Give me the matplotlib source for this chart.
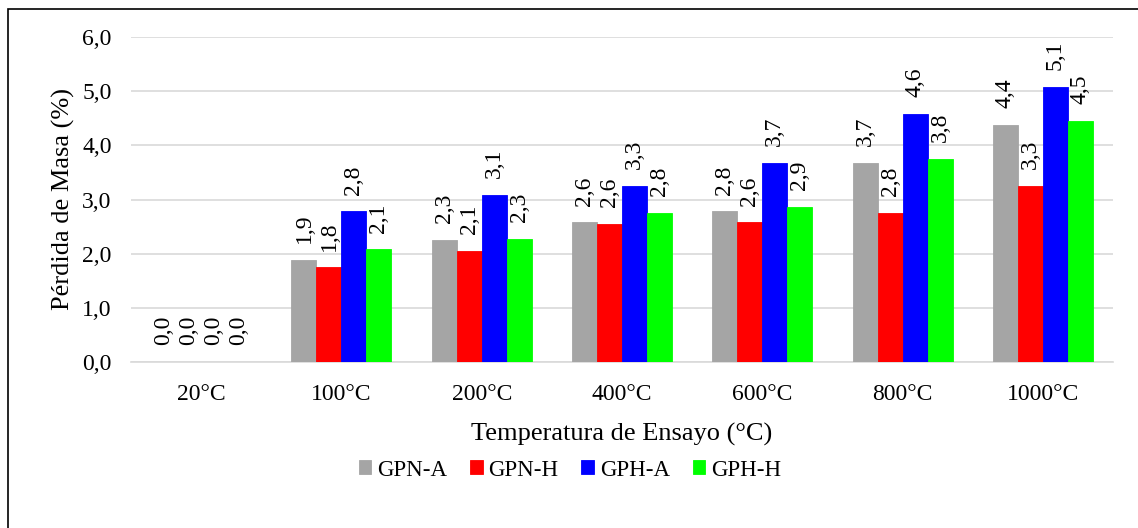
import matplotlib
matplotlib.use("Agg")
import matplotlib.pyplot as plt
import numpy as np
from decimal import Decimal, ROUND_HALF_UP

plt.rcParams['font.family'] = ['Liberation Serif', 'DejaVu Serif']

categories = ["20°C", "100°C", "200°C", "400°C", "600°C", "800°C", "1000°C"]
series_names = ["GPN-A", "GPN-H", "GPH-A", "GPH-H"]
gpn_a = [0.0, 1.88, 2.26, 2.58, 2.78, 3.68, 4.38]
gpn_h = [0.0, 1.75, 2.05, 2.55, 2.58, 2.75, 3.25]
gph_a = [0.0, 2.78, 3.08, 3.25, 3.68, 4.58, 5.08]
gph_h = [0.0, 2.08, 2.28, 2.75, 2.86, 3.75, 4.45]
yticks = [0.0, 1.0, 2.0, 3.0, 4.0, 5.0, 6.0]

colors = ["#a5a5a5", "#ff0000", "#0000ff", "#00ff00"]
data = [gpn_a, gpn_h, gph_a, gph_h]
FS = 17
FS_TITLE = 19


def fmt(v):
    d = Decimal(str(v)).quantize(Decimal("0.1"), rounding=ROUND_HALF_UP)
    return str(d).replace(".", ",")


fig = plt.figure(figsize=(11.38, 5.28), dpi=100)
ax = fig.add_axes([131 / 1138, 1 - 362 / 528, (1113 - 131) / 1138, (362 - 37) / 528])

x = np.arange(len(categories))
bw = 0.178
offsets = (np.arange(4) - 1.5) * bw
for vals, c, off, name in zip(data, colors, offsets, series_names):
    bars = ax.bar(x + off, vals, width=bw, color=c, edgecolor=c, linewidth=0.6,
                  label=name, zorder=3)
    for b, v in zip(bars, vals):
        ax.annotate(fmt(v), (b.get_x() + b.get_width() / 2, v),
                    xytext=(0, 12), textcoords="offset points", rotation=90,
                    ha="center", va="bottom", fontsize=FS, color="black",
                    zorder=4, annotation_clip=False)

ax.set_xlim(-0.5, len(categories) - 0.5)
ax.set_ylim(0, 6.0)
ax.set_yticks(yticks)
ax.set_yticklabels([fmt(t) for t in yticks], fontsize=FS)
ax.set_xticks(x)
ax.set_xticklabels(categories, fontsize=FS)
ax.tick_params(axis="y", length=0, pad=14)
ax.tick_params(axis="x", length=0, pad=16)
ax.grid(axis="y", color="#d9d9d9", linewidth=1.2, zorder=0)
for s in ["top", "right", "left"]:
    ax.spines[s].set_visible(False)
ax.spines["bottom"].set_color("#d9d9d9")
ax.spines["bottom"].set_linewidth(1.2)

ax.set_ylabel("Pérdida de Masa (%)", fontsize=FS_TITLE, labelpad=5)
ax.set_xlabel("Temperatura de Ensayo (°C)", fontsize=FS_TITLE, labelpad=13)

ax.legend(loc="center", bbox_to_anchor=(570 / 1138, 1 - 470 / 528),
          bbox_transform=fig.transFigure, ncol=4, frameon=False, fontsize=16.5,
          handlelength=0.55, handleheight=0.55, handletextpad=0.25, columnspacing=1.0)

fig.patches.append(plt.Rectangle((8 / 1138, -10 / 528), (1200 - 8) / 1138, (519 + 10) / 528,
                                 transform=fig.transFigure, fill=False,
                                 edgecolor="black", linewidth=1.2))

fig.savefig("out.png", dpi=100)
